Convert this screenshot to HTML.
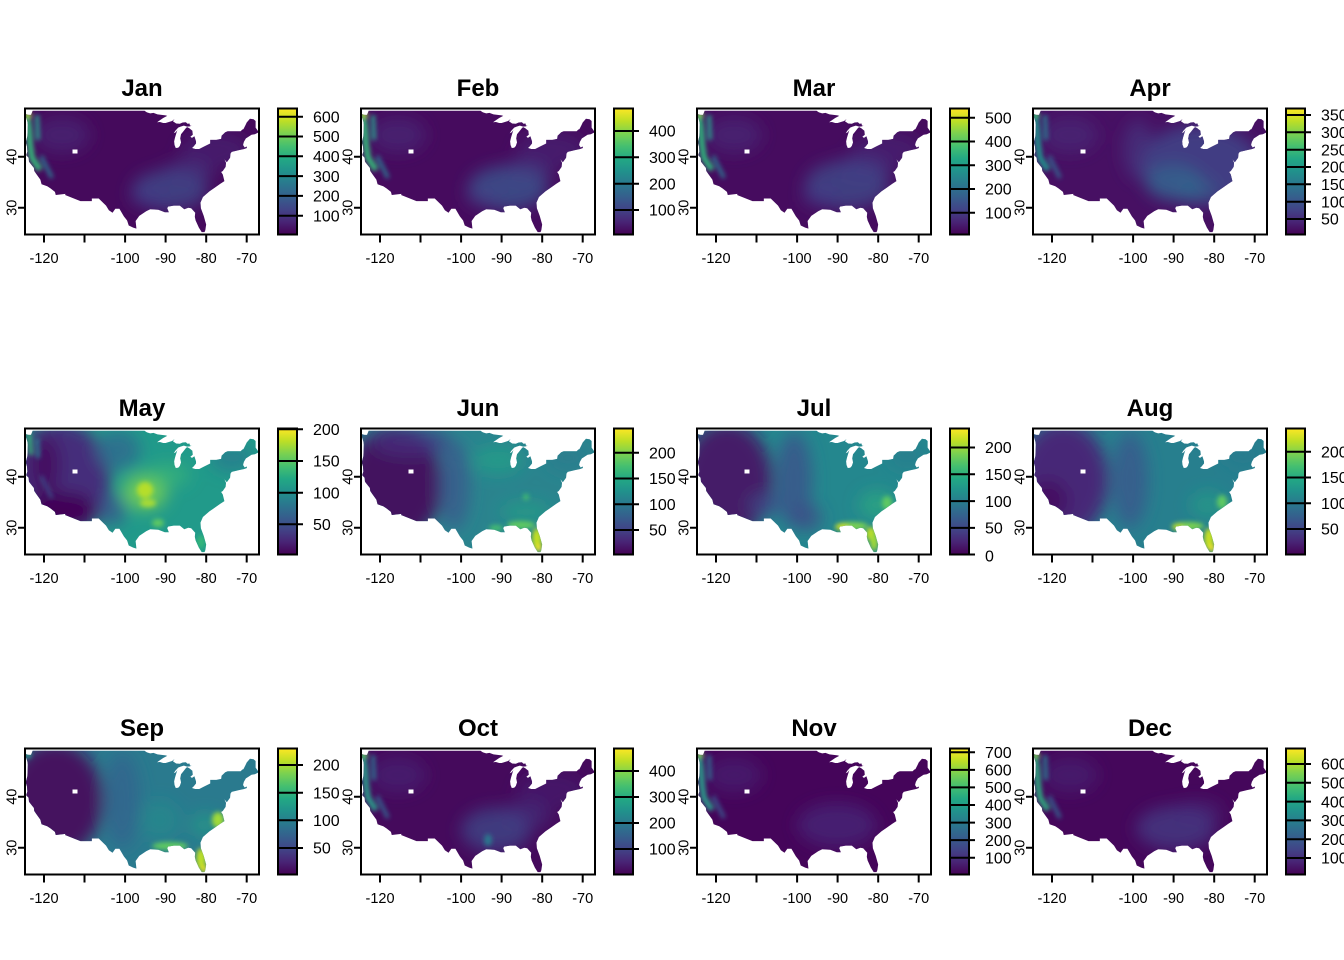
<!DOCTYPE html>
<html><head><meta charset="utf-8"><style>
html,body{margin:0;padding:0;background:#fff;}
svg{display:block;}
.ax{font-family:"Liberation Sans",Arial,sans-serif;font-size:14.5px;text-anchor:middle;fill:#000;}
.cb{font-family:"Liberation Sans",Arial,sans-serif;font-size:16px;fill:#000;}
.ti{font-family:"Liberation Sans",Arial,sans-serif;font-size:24px;font-weight:bold;text-anchor:middle;fill:#000;}
</style></head><body>
<svg width="1344" height="960" viewBox="0 0 1344 960" xmlns="http://www.w3.org/2000/svg">
<defs>
<linearGradient id="vir" x1="0" y1="1" x2="0" y2="0">
<stop offset="0" stop-color="#440154"/><stop offset=".1" stop-color="#482475"/><stop offset=".2" stop-color="#414487"/><stop offset=".3" stop-color="#355f8d"/><stop offset=".4" stop-color="#2a788e"/><stop offset=".5" stop-color="#21918c"/><stop offset=".6" stop-color="#22a884"/><stop offset=".7" stop-color="#44bf70"/><stop offset=".8" stop-color="#7ad151"/><stop offset=".9" stop-color="#bddf26"/><stop offset="1" stop-color="#fde725"/>
</linearGradient>
<clipPath id="usc" clipPathUnits="userSpaceOnUse">
<path transform="matrix(4.054 0 0 -5.1 530.48 360.7)" d="M-124.7 48.4 L-123.8 48.2 L-123.2 48.2 L-122.8 49 L-95.2 49 L-94.8 48.8 L-94.6 48.7 L-93.8 48.5 L-93 48.6 L-92 48.3 L-91 48.2 L-90 48.1 L-89.6 48 L-90.6 47.6 L-91.5 47.1 L-92.1 46.75 L-91.4 46.8 L-90.6 46.6 L-90 46.6 L-89.2 46.8 L-88.4 47 L-87.8 47.4 L-88.2 46.95 L-87.4 46.5 L-86.5 46.45 L-85.8 46.7 L-85 46.75 L-84.6 46.45 L-84.1 46.5 L-84 46.1 L-83.6 46.1 L-84 45.95 L-84.7 45.9 L-85.5 46.1 L-86.3 45.9 L-86.9 45.7 L-87.6 45.1 L-88 44.6 L-87.5 44.8 L-87.1 45.2 L-87.4 44.5 L-87.7 43.7 L-87.9 43 L-87.8 42.3 L-87.5 41.7 L-86.9 41.75 L-86.5 42.1 L-86.2 42.8 L-86.4 43.6 L-86.2 44.4 L-85.6 45 L-85 45.6 L-84.7 45.8 L-84.2 45.6 L-83.4 45.1 L-83.3 44.3 L-83.9 43.9 L-83.5 43.7 L-82.9 44 L-82.5 43 L-82.5 42.6 L-83.1 42 L-83.5 41.7 L-82.7 41.5 L-81.7 41.5 L-80.5 42 L-79 42.6 L-79 43.3 L-77.5 43.3 L-76.3 43.5 L-76.2 44.1 L-75.3 44.8 L-74.7 45 L-71.5 45 L-71.1 45.3 L-70.8 45.4 L-70.3 46.2 L-70 46.7 L-69.2 47.45 L-68.3 47.35 L-67.8 47 L-67.8 45.7 L-67 44.8 L-68 44.4 L-68.8 44.3 L-69.8 43.8 L-70.2 43.6 L-70.7 42.9 L-70.9 42.3 L-70.5 41.8 L-70 42 L-69.95 41.7 L-70.6 41.5 L-71.9 41.3 L-73.7 40.95 L-74 40.6 L-74.1 39.8 L-74.9 38.9 L-75.5 39.5 L-75.1 38.8 L-75.2 38 L-75.9 37.2 L-76.3 37 L-75.9 36.5 L-75.5 35.2 L-76.5 34.7 L-77.9 33.9 L-79.2 33.2 L-80.8 32.1 L-81.4 31 L-81.3 29.9 L-80.6 28.4 L-80 26.7 L-80.2 25.6 L-80.4 25.2 L-81.1 25.2 L-81.8 26.1 L-82.6 27.5 L-82.8 28.2 L-82.7 29 L-83.7 29.9 L-84.4 30 L-85.4 29.7 L-86.5 30.4 L-88 30.4 L-89.4 30.2 L-89.6 29.9 L-89.2 29.1 L-90.2 29.1 L-91.8 29.6 L-93.8 29.7 L-94.8 29.3 L-96.5 28.4 L-97.4 27.4 L-97.2 25.9 L-98 26.1 L-99.1 26.5 L-99.5 27.5 L-100.3 28.3 L-101.4 29.8 L-102.4 29.8 L-103.1 29 L-104 29.5 L-104.7 30.4 L-106.5 31.8 L-108.2 31.8 L-108.2 31.3 L-111 31.3 L-114.8 32.5 L-114.7 32.7 L-117.1 32.5 L-117.3 33.1 L-118.4 33.8 L-119.2 34.2 L-120.6 34.6 L-120.9 35.5 L-121.9 36.6 L-122.4 37.2 L-122.5 37.8 L-123 38.3 L-123.7 39 L-123.8 39.8 L-124.4 40.3 L-124.1 41 L-124.2 42 L-124.5 42.8 L-124.1 44 L-124 46.3 L-124.1 46.9 Z"/>
</clipPath>
<filter id="b8" x="-50%" y="-50%" width="200%" height="200%"><feGaussianBlur stdDeviation="8"/></filter>
<filter id="b3" x="-50%" y="-50%" width="200%" height="200%"><feGaussianBlur stdDeviation="2.5"/></filter>
</defs>
<rect width="1344" height="960" fill="#fff"/>

<!-- JAN -->
<g transform="translate(0,0)">
<g clip-path="url(#usc)">
<rect x="20" y="105" width="245" height="135" fill="#450a5c"/>
<g filter="url(#b8)">
<ellipse cx="170" cy="190" rx="38" ry="20" fill="#3e4a89" opacity=".8"/>
<ellipse cx="188" cy="172" rx="25" ry="12" fill="#424086" opacity=".6"/>
<ellipse cx="148" cy="196" rx="18" ry="10" fill="#433e85" opacity=".6"/>
<ellipse cx="215" cy="150" rx="35" ry="18" fill="#472a7a" opacity=".5"/>
<ellipse cx="62" cy="135" rx="28" ry="18" fill="#472d7b" opacity=".6"/>
</g>
<g filter="url(#b3)" fill="none">
<path d="M27 113 L29 130 L30 145 L32 158 L40 170" stroke="#35b779" stroke-width="6"/>
<path d="M37 115 L38 140" stroke="#2a9b8a" stroke-width="4"/>
<path d="M41 156 L52 178" stroke="#2d708e" stroke-width="4"/>
<circle cx="28" cy="115" r="3.5" fill="#a0da39"/>
</g>
<rect x="72.5" y="149.5" width="5" height="4" fill="#fff"/>
</g>
<rect x="25" y="108.5" width="234" height="126" fill="none" stroke="#000" stroke-width="2"/>
<path d="M44 234.5v8M84.5 234.5v8M125.1 234.5v8M165.6 234.5v8M206.2 234.5v8M246.7 234.5v8M25 156.7h-7M25 207.7h-7" stroke="#000" stroke-width="2"/>
<text class="ax" x="44" y="263">-120</text><text class="ax" x="125.1" y="263">-100</text><text class="ax" x="165.6" y="263">-90</text><text class="ax" x="206.2" y="263">-80</text><text class="ax" x="246.7" y="263">-70</text>
<text class="ax" transform="translate(16.5 156.7) rotate(-90)">40</text><text class="ax" transform="translate(16.5 207.7) rotate(-90)">30</text>
<text class="ti" x="142" y="96">Jan</text>
<rect x="278" y="108.5" width="19" height="126" fill="url(#vir)" stroke="#000" stroke-width="2"/>
<path d="M278 116.7h25M278 136.5h25M278 156.3h25M278 176.1h25M278 195.9h25M278 215.7h25" stroke="#000" stroke-width="2"/>
<text class="cb" x="313" y="122.4">600</text><text class="cb" x="313" y="142.2">500</text><text class="cb" x="313" y="162">400</text><text class="cb" x="313" y="181.8">300</text><text class="cb" x="313" y="201.6">200</text><text class="cb" x="313" y="221.4">100</text>
</g>

<!-- FEB -->
<g transform="translate(336,0)">
<g clip-path="url(#usc)">
<rect x="20" y="105" width="245" height="135" fill="#460b5e"/>
<g filter="url(#b8)">
<ellipse cx="172" cy="188" rx="40" ry="22" fill="#3b528b" opacity=".85"/>
<ellipse cx="190" cy="172" rx="26" ry="12" fill="#414487" opacity=".6"/>
<ellipse cx="148" cy="196" rx="18" ry="10" fill="#424086" opacity=".6"/>
<ellipse cx="215" cy="150" rx="35" ry="18" fill="#472c7a" opacity=".5"/>
<ellipse cx="62" cy="135" rx="28" ry="18" fill="#472d7b" opacity=".6"/>
</g>
<g filter="url(#b3)" fill="none">
<path d="M27 113 L29 130 L30 145 L32 158 L40 170" stroke="#35b779" stroke-width="6"/>
<path d="M37 115 L38 140" stroke="#2a9b8a" stroke-width="4"/>
<path d="M41 156 L52 178" stroke="#2d708e" stroke-width="4"/>
<circle cx="28" cy="115" r="3.5" fill="#a0da39"/>
</g>
<rect x="72.5" y="149.5" width="5" height="4" fill="#fff"/>
</g>
<rect x="25" y="108.5" width="234" height="126" fill="none" stroke="#000" stroke-width="2"/>
<path d="M44 234.5v8M84.5 234.5v8M125.1 234.5v8M165.6 234.5v8M206.2 234.5v8M246.7 234.5v8M25 156.7h-7M25 207.7h-7" stroke="#000" stroke-width="2"/>
<text class="ax" x="44" y="263">-120</text><text class="ax" x="125.1" y="263">-100</text><text class="ax" x="165.6" y="263">-90</text><text class="ax" x="206.2" y="263">-80</text><text class="ax" x="246.7" y="263">-70</text>
<text class="ax" transform="translate(16.5 156.7) rotate(-90)">40</text><text class="ax" transform="translate(16.5 207.7) rotate(-90)">30</text>
<text class="ti" x="142" y="96">Feb</text>
<rect x="278" y="108.5" width="19" height="126" fill="url(#vir)" stroke="#000" stroke-width="2"/>
<path d="M278 131h25M278 157.3h25M278 183.7h25M278 210h25" stroke="#000" stroke-width="2"/>
<text class="cb" x="313" y="136.7">400</text><text class="cb" x="313" y="163">300</text><text class="cb" x="313" y="189.4">200</text><text class="cb" x="313" y="215.7">100</text>
</g>

<!-- MAR -->
<g transform="translate(672,0)">
<g clip-path="url(#usc)">
<rect x="20" y="105" width="245" height="135" fill="#460c5f"/>
<g filter="url(#b8)">
<ellipse cx="175" cy="185" rx="42" ry="24" fill="#3e4a89" opacity=".8"/>
<ellipse cx="192" cy="168" rx="28" ry="14" fill="#424086" opacity=".6"/>
<ellipse cx="148" cy="196" rx="18" ry="10" fill="#433e85" opacity=".6"/>
<ellipse cx="215" cy="150" rx="35" ry="18" fill="#472c7a" opacity=".5"/>
<ellipse cx="62" cy="135" rx="28" ry="18" fill="#472d7b" opacity=".6"/>
</g>
<g filter="url(#b3)" fill="none">
<path d="M27 113 L29 130 L30 145 L32 158 L40 170" stroke="#2fb47c" stroke-width="6"/>
<path d="M37 115 L38 140" stroke="#2a9b8a" stroke-width="4"/>
<path d="M41 156 L52 178" stroke="#2d708e" stroke-width="4"/>
<circle cx="28" cy="115" r="3.5" fill="#7ad151"/>
</g>
<rect x="72.5" y="149.5" width="5" height="4" fill="#fff"/>
</g>
<rect x="25" y="108.5" width="234" height="126" fill="none" stroke="#000" stroke-width="2"/>
<path d="M44 234.5v8M84.5 234.5v8M125.1 234.5v8M165.6 234.5v8M206.2 234.5v8M246.7 234.5v8M25 156.7h-7M25 207.7h-7" stroke="#000" stroke-width="2"/>
<text class="ax" x="44" y="263">-120</text><text class="ax" x="125.1" y="263">-100</text><text class="ax" x="165.6" y="263">-90</text><text class="ax" x="206.2" y="263">-80</text><text class="ax" x="246.7" y="263">-70</text>
<text class="ax" transform="translate(16.5 156.7) rotate(-90)">40</text><text class="ax" transform="translate(16.5 207.7) rotate(-90)">30</text>
<text class="ti" x="142" y="96">Mar</text>
<rect x="278" y="108.5" width="19" height="126" fill="url(#vir)" stroke="#000" stroke-width="2"/>
<path d="M278 117.7h25M278 141.5h25M278 165.2h25M278 189h25M278 212.7h25" stroke="#000" stroke-width="2"/>
<text class="cb" x="313" y="123.4">500</text><text class="cb" x="313" y="147.2">400</text><text class="cb" x="313" y="170.9">300</text><text class="cb" x="313" y="194.7">200</text><text class="cb" x="313" y="218.4">100</text>
</g>

<!-- APR -->
<g transform="translate(1008,0)">
<g clip-path="url(#usc)">
<rect x="20" y="105" width="245" height="135" fill="#471063"/>
<g filter="url(#b8)">
<ellipse cx="192" cy="165" rx="60" ry="40" fill="#3f4788" opacity=".85"/>
<ellipse cx="165" cy="182" rx="28" ry="18" fill="#33638d" opacity=".8"/>
<ellipse cx="190" cy="190" rx="18" ry="12" fill="#30698e" opacity=".5"/>
<ellipse cx="130" cy="150" rx="15" ry="30" fill="#433d84" opacity=".6"/>
<ellipse cx="62" cy="135" rx="28" ry="18" fill="#472d7b" opacity=".6"/>
</g>
<g filter="url(#b3)" fill="none">
<path d="M27 113 L29 130 L30 145 L32 158 L40 170" stroke="#21918c" stroke-width="6"/>
<path d="M37 115 L38 140" stroke="#2a788e" stroke-width="4"/>
<path d="M41 156 L52 178" stroke="#355f8d" stroke-width="4"/>
<circle cx="28" cy="115" r="3.5" fill="#44bf70"/>
</g>
<rect x="72.5" y="149.5" width="5" height="4" fill="#fff"/>
</g>
<rect x="25" y="108.5" width="234" height="126" fill="none" stroke="#000" stroke-width="2"/>
<path d="M44 234.5v8M84.5 234.5v8M125.1 234.5v8M165.6 234.5v8M206.2 234.5v8M246.7 234.5v8M25 156.7h-7M25 207.7h-7" stroke="#000" stroke-width="2"/>
<text class="ax" x="44" y="263">-120</text><text class="ax" x="125.1" y="263">-100</text><text class="ax" x="165.6" y="263">-90</text><text class="ax" x="206.2" y="263">-80</text><text class="ax" x="246.7" y="263">-70</text>
<text class="ax" transform="translate(16.5 156.7) rotate(-90)">40</text><text class="ax" transform="translate(16.5 207.7) rotate(-90)">30</text>
<text class="ti" x="142" y="96">Apr</text>
<rect x="278" y="108.5" width="19" height="126" fill="url(#vir)" stroke="#000" stroke-width="2"/>
<path d="M278 115h25M278 132.3h25M278 149.7h25M278 167h25M278 184.3h25M278 201.7h25M278 219h25" stroke="#000" stroke-width="2"/>
<text class="cb" x="313" y="120.7">350</text><text class="cb" x="313" y="138">300</text><text class="cb" x="313" y="155.4">250</text><text class="cb" x="313" y="172.7">200</text><text class="cb" x="313" y="190">150</text><text class="cb" x="313" y="207.4">100</text><text class="cb" x="313" y="224.7">50</text>
</g>

<!-- MAY -->
<g transform="translate(0,320)">
<g clip-path="url(#usc)">
<rect x="20" y="105" width="245" height="135" fill="#219a8a"/>
<g filter="url(#b8)">
<ellipse cx="60" cy="160" rx="50" ry="58" fill="#46297a" opacity=".95"/>
<ellipse cx="62" cy="190" rx="35" ry="18" fill="#440154" opacity=".9"/>
<ellipse cx="45" cy="145" rx="15" ry="30" fill="#440154" opacity=".6"/>
<ellipse cx="118" cy="130" rx="22" ry="20" fill="#2f6b8e" opacity=".85"/>
<ellipse cx="112" cy="190" rx="14" ry="16" fill="#3a548c" opacity=".75"/>
<ellipse cx="145" cy="172" rx="22" ry="18" fill="#7ad151" opacity=".85"/>
<ellipse cx="168" cy="155" rx="22" ry="12" fill="#44bf70" opacity=".5"/>
<ellipse cx="232" cy="138" rx="22" ry="14" fill="#2a788e" opacity=".7"/>
</g>
<g filter="url(#b3)" fill="none">
<ellipse cx="145" cy="170" rx="8" ry="8" fill="#b5de2b"/>
<ellipse cx="148" cy="183" rx="8" ry="4" fill="#a8db34"/>
<ellipse cx="158" cy="203" rx="6" ry="4" fill="#5ec962"/>
<ellipse cx="201" cy="222" rx="4" ry="7" fill="#35b779"/>
<path d="M29 113 L31 135" stroke="#35b779" stroke-width="4"/>
<path d="M37 118 L38 138" stroke="#2a788e" stroke-width="4"/>
<path d="M41 156 L52 178" stroke="#3b528b" stroke-width="3"/>
</g>
<rect x="72.5" y="149.5" width="5" height="4" fill="#fff"/>
</g>
<rect x="25" y="108.5" width="234" height="126" fill="none" stroke="#000" stroke-width="2"/>
<path d="M44 234.5v8M84.5 234.5v8M125.1 234.5v8M165.6 234.5v8M206.2 234.5v8M246.7 234.5v8M25 156.7h-7M25 207.7h-7" stroke="#000" stroke-width="2"/>
<text class="ax" x="44" y="263">-120</text><text class="ax" x="125.1" y="263">-100</text><text class="ax" x="165.6" y="263">-90</text><text class="ax" x="206.2" y="263">-80</text><text class="ax" x="246.7" y="263">-70</text>
<text class="ax" transform="translate(16.5 156.7) rotate(-90)">40</text><text class="ax" transform="translate(16.5 207.7) rotate(-90)">30</text>
<text class="ti" x="142" y="96">May</text>
<rect x="278" y="108.5" width="19" height="126" fill="url(#vir)" stroke="#000" stroke-width="2"/>
<path d="M278 109.3h25M278 141h25M278 172.7h25M278 204.3h25" stroke="#000" stroke-width="2"/>
<text class="cb" x="313" y="115">200</text><text class="cb" x="313" y="146.7">150</text><text class="cb" x="313" y="178.4">100</text><text class="cb" x="313" y="210">50</text>
</g>

<!-- JUN -->
<g transform="translate(336,320)">
<g clip-path="url(#usc)">
<rect x="20" y="105" width="245" height="135" fill="#2a848e"/>
<g filter="url(#b8)">
<ellipse cx="58" cy="165" rx="48" ry="58" fill="#450a5c" opacity=".95"/>
<ellipse cx="75" cy="122" rx="40" ry="14" fill="#453581" opacity=".7"/>
<ellipse cx="118" cy="165" rx="16" ry="45" fill="#3a548c" opacity=".7"/>
<ellipse cx="162" cy="140" rx="25" ry="14" fill="#22a785" opacity=".6"/>
<ellipse cx="232" cy="138" rx="22" ry="14" fill="#2a788e" opacity=".5"/>
<ellipse cx="190" cy="192" rx="25" ry="10" fill="#25ab82" opacity=".5"/>
</g>
<g filter="url(#b3)">
<ellipse cx="185" cy="205" rx="14" ry="4" fill="#5ec962"/>
<ellipse cx="160" cy="208" rx="7" ry="3" fill="#44bf70"/>
<ellipse cx="201" cy="219" rx="5" ry="11" fill="#c2df23"/>
<ellipse cx="203" cy="228" rx="3" ry="4" fill="#fde725"/>
<ellipse cx="190" cy="177" rx="3" ry="3" fill="#44bf70"/>
</g>
<rect x="72.5" y="149.5" width="5" height="4" fill="#fff"/>
</g>
<rect x="25" y="108.5" width="234" height="126" fill="none" stroke="#000" stroke-width="2"/>
<path d="M44 234.5v8M84.5 234.5v8M125.1 234.5v8M165.6 234.5v8M206.2 234.5v8M246.7 234.5v8M25 156.7h-7M25 207.7h-7" stroke="#000" stroke-width="2"/>
<text class="ax" x="44" y="263">-120</text><text class="ax" x="125.1" y="263">-100</text><text class="ax" x="165.6" y="263">-90</text><text class="ax" x="206.2" y="263">-80</text><text class="ax" x="246.7" y="263">-70</text>
<text class="ax" transform="translate(16.5 156.7) rotate(-90)">40</text><text class="ax" transform="translate(16.5 207.7) rotate(-90)">30</text>
<text class="ti" x="142" y="96">Jun</text>
<rect x="278" y="108.5" width="19" height="126" fill="url(#vir)" stroke="#000" stroke-width="2"/>
<path d="M278 132.7h25M278 158.5h25M278 184.3h25M278 210h25" stroke="#000" stroke-width="2"/>
<text class="cb" x="313" y="138.4">200</text><text class="cb" x="313" y="164.2">150</text><text class="cb" x="313" y="190">100</text><text class="cb" x="313" y="215.7">50</text>
</g>

<!-- JUL -->
<g transform="translate(672,320)">
<g clip-path="url(#usc)">
<rect x="20" y="105" width="245" height="135" fill="#24878e"/>
<g filter="url(#b8)">
<ellipse cx="55" cy="160" rx="45" ry="58" fill="#471365" opacity=".95"/>
<ellipse cx="92" cy="185" rx="16" ry="12" fill="#3e4a89" opacity=".7"/>
<ellipse cx="122" cy="160" rx="18" ry="48" fill="#3b528b" opacity=".8"/>
<ellipse cx="136" cy="198" rx="14" ry="14" fill="#424086" opacity=".6"/>
<ellipse cx="205" cy="185" rx="18" ry="14" fill="#2db27d" opacity=".6"/>
<ellipse cx="235" cy="135" rx="20" ry="14" fill="#2a788e" opacity=".5"/>
</g>
<g filter="url(#b3)">
<ellipse cx="180" cy="206" rx="16" ry="4" fill="#7ad151"/>
<ellipse cx="170" cy="207" rx="7" ry="3" fill="#d2e21b"/>
<ellipse cx="199" cy="214" rx="5" ry="7" fill="#bddf26"/>
<ellipse cx="202" cy="222" rx="4" ry="9" fill="#a2da37"/>
<ellipse cx="215" cy="183" rx="5" ry="7" fill="#5ec962"/>
</g>
<rect x="72.5" y="149.5" width="5" height="4" fill="#fff"/>
</g>
<rect x="25" y="108.5" width="234" height="126" fill="none" stroke="#000" stroke-width="2"/>
<path d="M44 234.5v8M84.5 234.5v8M125.1 234.5v8M165.6 234.5v8M206.2 234.5v8M246.7 234.5v8M25 156.7h-7M25 207.7h-7" stroke="#000" stroke-width="2"/>
<text class="ax" x="44" y="263">-120</text><text class="ax" x="125.1" y="263">-100</text><text class="ax" x="165.6" y="263">-90</text><text class="ax" x="206.2" y="263">-80</text><text class="ax" x="246.7" y="263">-70</text>
<text class="ax" transform="translate(16.5 156.7) rotate(-90)">40</text><text class="ax" transform="translate(16.5 207.7) rotate(-90)">30</text>
<text class="ti" x="142" y="96">Jul</text>
<rect x="278" y="108.5" width="19" height="126" fill="url(#vir)" stroke="#000" stroke-width="2"/>
<path d="M278 127.5h25M278 154.3h25M278 181.1h25M278 207.9h25M278 234.5h25" stroke="#000" stroke-width="2"/>
<text class="cb" x="313" y="133.2">200</text><text class="cb" x="313" y="160">150</text><text class="cb" x="313" y="186.8">100</text><text class="cb" x="313" y="213.6">50</text><text class="cb" x="313" y="241.5">0</text>
</g>

<!-- AUG -->
<g transform="translate(1008,320)">
<g clip-path="url(#usc)">
<rect x="20" y="105" width="245" height="135" fill="#277f8e"/>
<g filter="url(#b8)">
<ellipse cx="55" cy="160" rx="45" ry="58" fill="#482576" opacity=".95"/>
<ellipse cx="40" cy="180" rx="20" ry="20" fill="#440154" opacity=".6"/>
<ellipse cx="122" cy="160" rx="18" ry="48" fill="#3b528b" opacity=".7"/>
<ellipse cx="200" cy="185" rx="18" ry="14" fill="#22a884" opacity=".5"/>
<ellipse cx="235" cy="135" rx="20" ry="14" fill="#2a788e" opacity=".4"/>
</g>
<g filter="url(#b3)">
<ellipse cx="180" cy="206" rx="16" ry="4" fill="#7ad151"/>
<ellipse cx="170" cy="207" rx="6" ry="3" fill="#bddf26"/>
<ellipse cx="201" cy="219" rx="5" ry="11" fill="#c8e020"/>
<ellipse cx="204" cy="228" rx="3" ry="4" fill="#fde725"/>
<ellipse cx="214" cy="182" rx="5" ry="7" fill="#5ec962"/>
</g>
<rect x="72.5" y="149.5" width="5" height="4" fill="#fff"/>
</g>
<rect x="25" y="108.5" width="234" height="126" fill="none" stroke="#000" stroke-width="2"/>
<path d="M44 234.5v8M84.5 234.5v8M125.1 234.5v8M165.6 234.5v8M206.2 234.5v8M246.7 234.5v8M25 156.7h-7M25 207.7h-7" stroke="#000" stroke-width="2"/>
<text class="ax" x="44" y="263">-120</text><text class="ax" x="125.1" y="263">-100</text><text class="ax" x="165.6" y="263">-90</text><text class="ax" x="206.2" y="263">-80</text><text class="ax" x="246.7" y="263">-70</text>
<text class="ax" transform="translate(16.5 156.7) rotate(-90)">40</text><text class="ax" transform="translate(16.5 207.7) rotate(-90)">30</text>
<text class="ti" x="142" y="96">Aug</text>
<rect x="278" y="108.5" width="19" height="126" fill="url(#vir)" stroke="#000" stroke-width="2"/>
<path d="M278 131.7h25M278 157.5h25M278 183.3h25M278 209h25" stroke="#000" stroke-width="2"/>
<text class="cb" x="313" y="137.4">200</text><text class="cb" x="313" y="163.2">150</text><text class="cb" x="313" y="189">100</text><text class="cb" x="313" y="214.7">50</text>
</g>

<!-- SEP -->
<g transform="translate(0,640)">
<g clip-path="url(#usc)">
<rect x="20" y="105" width="245" height="135" fill="#2a7a8e"/>
<g filter="url(#b8)">
<ellipse cx="55" cy="160" rx="48" ry="58" fill="#46085c" opacity=".95"/>
<ellipse cx="122" cy="160" rx="18" ry="48" fill="#355f8d" opacity=".7"/>
<ellipse cx="160" cy="180" rx="20" ry="20" fill="#21918c" opacity=".5"/>
<ellipse cx="205" cy="185" rx="15" ry="12" fill="#22a884" opacity=".5"/>
</g>
<g filter="url(#b3)">
<ellipse cx="170" cy="206" rx="18" ry="4" fill="#5ec962"/>
<ellipse cx="218" cy="180" rx="6" ry="8" fill="#a0da39"/>
<ellipse cx="201" cy="219" rx="5" ry="11" fill="#bddf26"/>
<ellipse cx="204" cy="229" rx="3" ry="4" fill="#f0e51c"/>
<circle cx="28" cy="115" r="3.5" fill="#2a9b8a"/>
</g>
<rect x="72.5" y="149.5" width="5" height="4" fill="#fff"/>
</g>
<rect x="25" y="108.5" width="234" height="126" fill="none" stroke="#000" stroke-width="2"/>
<path d="M44 234.5v8M84.5 234.5v8M125.1 234.5v8M165.6 234.5v8M206.2 234.5v8M246.7 234.5v8M25 156.7h-7M25 207.7h-7" stroke="#000" stroke-width="2"/>
<text class="ax" x="44" y="263">-120</text><text class="ax" x="125.1" y="263">-100</text><text class="ax" x="165.6" y="263">-90</text><text class="ax" x="206.2" y="263">-80</text><text class="ax" x="246.7" y="263">-70</text>
<text class="ax" transform="translate(16.5 156.7) rotate(-90)">40</text><text class="ax" transform="translate(16.5 207.7) rotate(-90)">30</text>
<text class="ti" x="142" y="96">Sep</text>
<rect x="278" y="108.5" width="19" height="126" fill="url(#vir)" stroke="#000" stroke-width="2"/>
<path d="M278 125h25M278 152.7h25M278 180.3h25M278 208h25" stroke="#000" stroke-width="2"/>
<text class="cb" x="313" y="130.7">200</text><text class="cb" x="313" y="158.4">150</text><text class="cb" x="313" y="186">100</text><text class="cb" x="313" y="213.7">50</text>
</g>

<!-- OCT -->
<g transform="translate(336,640)">
<g clip-path="url(#usc)">
<rect x="20" y="105" width="245" height="135" fill="#450a5c"/>
<g filter="url(#b8)">
<ellipse cx="160" cy="190" rx="35" ry="22" fill="#3e4989" opacity=".75"/>
<ellipse cx="190" cy="175" rx="25" ry="14" fill="#433e85" opacity=".5"/>
<ellipse cx="62" cy="135" rx="28" ry="18" fill="#472d7b" opacity=".5"/>
<ellipse cx="215" cy="150" rx="35" ry="18" fill="#472a7a" opacity=".4"/>
</g>
<g filter="url(#b3)" fill="none">
<path d="M27 113 L29 130 L30 145 L32 158 L40 170" stroke="#2a9b8a" stroke-width="6"/>
<path d="M37 115 L38 140" stroke="#2d708e" stroke-width="4"/>
<path d="M41 156 L52 178" stroke="#355f8d" stroke-width="4"/>
<circle cx="28" cy="115" r="3.5" fill="#5ec962"/>
<ellipse cx="152" cy="200" rx="4" ry="6" fill="#2a788e"/>
</g>
<rect x="72.5" y="149.5" width="5" height="4" fill="#fff"/>
</g>
<rect x="25" y="108.5" width="234" height="126" fill="none" stroke="#000" stroke-width="2"/>
<path d="M44 234.5v8M84.5 234.5v8M125.1 234.5v8M165.6 234.5v8M206.2 234.5v8M246.7 234.5v8M25 156.7h-7M25 207.7h-7" stroke="#000" stroke-width="2"/>
<text class="ax" x="44" y="263">-120</text><text class="ax" x="125.1" y="263">-100</text><text class="ax" x="165.6" y="263">-90</text><text class="ax" x="206.2" y="263">-80</text><text class="ax" x="246.7" y="263">-70</text>
<text class="ax" transform="translate(16.5 156.7) rotate(-90)">40</text><text class="ax" transform="translate(16.5 207.7) rotate(-90)">30</text>
<text class="ti" x="142" y="96">Oct</text>
<rect x="278" y="108.5" width="19" height="126" fill="url(#vir)" stroke="#000" stroke-width="2"/>
<path d="M278 131h25M278 157h25M278 183h25M278 209h25" stroke="#000" stroke-width="2"/>
<text class="cb" x="313" y="136.7">400</text><text class="cb" x="313" y="162.7">300</text><text class="cb" x="313" y="188.7">200</text><text class="cb" x="313" y="214.7">100</text>
</g>

<!-- NOV -->
<g transform="translate(672,640)">
<g clip-path="url(#usc)">
<rect x="20" y="105" width="245" height="135" fill="#45055a"/>
<g filter="url(#b8)">
<ellipse cx="165" cy="185" rx="40" ry="22" fill="#472a7a" opacity=".7"/>
<ellipse cx="62" cy="135" rx="28" ry="18" fill="#472a7a" opacity=".5"/>
</g>
<g filter="url(#b3)" fill="none">
<path d="M27 113 L29 130 L30 145 L32 158 L40 170" stroke="#2a9b8a" stroke-width="6"/>
<path d="M37 115 L38 140" stroke="#31688e" stroke-width="4"/>
<path d="M41 156 L52 178" stroke="#3b528b" stroke-width="4"/>
<circle cx="28" cy="115" r="3.5" fill="#7ad151"/>
</g>
<rect x="72.5" y="149.5" width="5" height="4" fill="#fff"/>
</g>
<rect x="25" y="108.5" width="234" height="126" fill="none" stroke="#000" stroke-width="2"/>
<path d="M44 234.5v8M84.5 234.5v8M125.1 234.5v8M165.6 234.5v8M206.2 234.5v8M246.7 234.5v8M25 156.7h-7M25 207.7h-7" stroke="#000" stroke-width="2"/>
<text class="ax" x="44" y="263">-120</text><text class="ax" x="125.1" y="263">-100</text><text class="ax" x="165.6" y="263">-90</text><text class="ax" x="206.2" y="263">-80</text><text class="ax" x="246.7" y="263">-70</text>
<text class="ax" transform="translate(16.5 156.7) rotate(-90)">40</text><text class="ax" transform="translate(16.5 207.7) rotate(-90)">30</text>
<text class="ti" x="142" y="96">Nov</text>
<rect x="278" y="108.5" width="19" height="126" fill="url(#vir)" stroke="#000" stroke-width="2"/>
<path d="M278 112.3h25M278 129.9h25M278 147.4h25M278 165h25M278 182.6h25M278 200.1h25M278 217.7h25" stroke="#000" stroke-width="2"/>
<text class="cb" x="313" y="118">700</text><text class="cb" x="313" y="135.6">600</text><text class="cb" x="313" y="153.1">500</text><text class="cb" x="313" y="170.7">400</text><text class="cb" x="313" y="188.3">300</text><text class="cb" x="313" y="205.8">200</text><text class="cb" x="313" y="223.4">100</text>
</g>

<!-- DEC -->
<g transform="translate(1008,640)">
<g clip-path="url(#usc)">
<rect x="20" y="105" width="245" height="135" fill="#45075b"/>
<g filter="url(#b8)">
<ellipse cx="168" cy="188" rx="40" ry="22" fill="#433e85" opacity=".75"/>
<ellipse cx="190" cy="172" rx="25" ry="12" fill="#46307e" opacity=".5"/>
<ellipse cx="62" cy="135" rx="28" ry="18" fill="#472a7a" opacity=".5"/>
</g>
<g filter="url(#b3)" fill="none">
<path d="M27 113 L29 130 L30 145 L32 158 L40 170" stroke="#2fa87f" stroke-width="6"/>
<path d="M37 115 L38 140" stroke="#2a788e" stroke-width="4"/>
<path d="M41 156 L52 178" stroke="#355f8d" stroke-width="4"/>
<circle cx="28" cy="115" r="3.5" fill="#7ad151"/>
</g>
<rect x="72.5" y="149.5" width="5" height="4" fill="#fff"/>
</g>
<rect x="25" y="108.5" width="234" height="126" fill="none" stroke="#000" stroke-width="2"/>
<path d="M44 234.5v8M84.5 234.5v8M125.1 234.5v8M165.6 234.5v8M206.2 234.5v8M246.7 234.5v8M25 156.7h-7M25 207.7h-7" stroke="#000" stroke-width="2"/>
<text class="ax" x="44" y="263">-120</text><text class="ax" x="125.1" y="263">-100</text><text class="ax" x="165.6" y="263">-90</text><text class="ax" x="206.2" y="263">-80</text><text class="ax" x="246.7" y="263">-70</text>
<text class="ax" transform="translate(16.5 156.7) rotate(-90)">40</text><text class="ax" transform="translate(16.5 207.7) rotate(-90)">30</text>
<text class="ti" x="142" y="96">Dec</text>
<rect x="278" y="108.5" width="19" height="126" fill="url(#vir)" stroke="#000" stroke-width="2"/>
<path d="M278 124h25M278 142.8h25M278 161.6h25M278 180.4h25M278 199.2h25M278 218h25" stroke="#000" stroke-width="2"/>
<text class="cb" x="313" y="129.7">600</text><text class="cb" x="313" y="148.5">500</text><text class="cb" x="313" y="167.3">400</text><text class="cb" x="313" y="186.1">300</text><text class="cb" x="313" y="204.9">200</text><text class="cb" x="313" y="223.7">100</text>
</g>
</svg>
</body></html>
